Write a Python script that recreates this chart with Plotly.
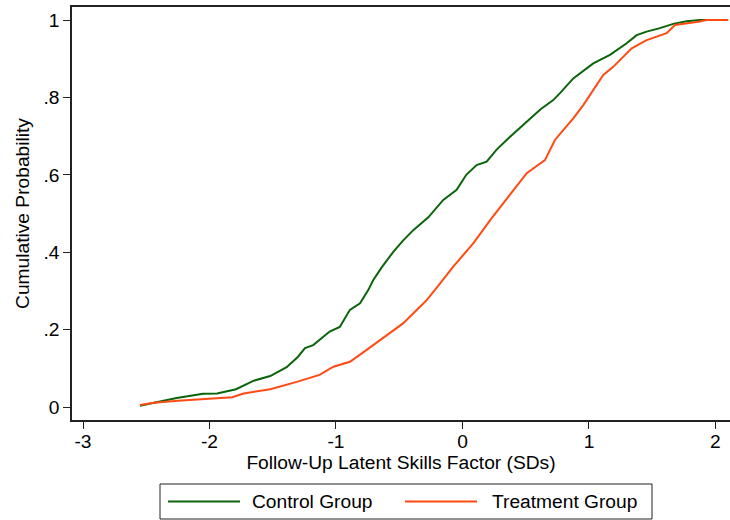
import plotly.graph_objects as go

control_x = [-2.55, -2.44, -2.26, -2.05, -1.94, -1.79, -1.65, -1.52, -1.39, -1.30, -1.245, -1.18,
             -1.05, -0.97, -0.89, -0.81, -0.745, -0.705, -0.64, -0.547, -0.47, -0.389, -0.27,
             -0.152, -0.046, 0.03, 0.112, 0.191, 0.27, 0.349, 0.43, 0.508, 0.62, 0.718, 0.771,
             0.876, 1.034, 1.166, 1.298, 1.377, 1.456, 1.561, 1.666, 1.772, 1.877, 2.10]
control_y = [0.003, 0.011, 0.023, 0.034, 0.035, 0.046, 0.068, 0.080, 0.103, 0.13, 0.152, 0.160,
             0.195, 0.207, 0.251, 0.268, 0.302, 0.328, 0.36, 0.401, 0.43, 0.457, 0.49,
             0.535, 0.561, 0.60, 0.625, 0.634, 0.665, 0.690, 0.715, 0.737, 0.77, 0.793, 0.811,
             0.849, 0.888, 0.910, 0.940, 0.961, 0.970, 0.979, 0.990, 0.997, 1.0, 1.0]

treat_x = [-2.55, -2.44, -2.25, -2.05, -1.82, -1.73, -1.52, -1.31, -1.13, -1.02, -0.89, -0.76,
           -0.63, -0.47, -0.336, -0.283, -0.2, -0.073, 0.085, 0.231, 0.362, 0.508, 0.652, 0.731,
           0.80, 0.876, 0.955, 1.034, 1.113, 1.192, 1.298, 1.338, 1.456, 1.614, 1.68, 1.772,
           1.877, 1.93, 2.10]
treat_y = [0.005, 0.011, 0.016, 0.020, 0.025, 0.035, 0.046, 0.065, 0.083, 0.104, 0.117, 0.147,
           0.178, 0.216, 0.259, 0.276, 0.31, 0.3625, 0.423, 0.488, 0.543, 0.604, 0.638, 0.690,
           0.717, 0.746, 0.780, 0.819, 0.858, 0.879, 0.914, 0.927, 0.948, 0.966, 0.987, 0.991,
           0.996, 1.0, 1.0]

series_names = ["Control Group", "Treatment Group"]
x_ticks = [-3, -2, -1, 0, 1, 2]
x_ticktext = ["-3", "-2", "-1", "0", "1", "2"]
y_ticks = [0, 0.2, 0.4, 0.6, 0.8, 1]
y_ticktext = ["0", ".2", ".4", ".6", ".8", "1"]

GREEN = "#0a640a"
ORANGE = "#ff4a12"
FONT = "Arial, Liberation Sans, sans-serif"
FS = 19.2

fig = go.Figure()
fig.add_trace(go.Scatter(x=control_x, y=control_y, mode="lines", name=series_names[0],
                         line=dict(color=GREEN, width=2)))
fig.add_trace(go.Scatter(x=treat_x, y=treat_y, mode="lines", name=series_names[1],
                         line=dict(color=ORANGE, width=2)))

W, H = 730, 520
L, R, T, B = 72, 0, 7, 100
pw, ph = W - L - R, H - T - B


def px(xpix):
    return (xpix - L) / pw


def py(ypix):
    return (H - B - ypix) / ph


# manual legend (box, two sample lines, labels)
shapes = [
    dict(type="rect", xref="paper", yref="paper", x0=px(160), x1=px(652), y0=py(484), y1=py(519),
         line=dict(color="#222222", width=1), fillcolor="white"),
    dict(type="line", xref="paper", yref="paper", x0=px(168), x1=px(240), y0=py(501.5), y1=py(501.5),
         line=dict(color=GREEN, width=2)),
    dict(type="line", xref="paper", yref="paper", x0=px(405), x1=px(477), y0=py(501.5), y1=py(501.5),
         line=dict(color=ORANGE, width=2)),
]
annotations = [
    dict(text=series_names[0], xref="paper", yref="paper", x=px(250), y=py(501.5),
         xanchor="left", yanchor="middle", showarrow=False, font=dict(family=FONT, size=FS, color="black")),
    dict(text=series_names[1], xref="paper", yref="paper", x=px(490), y=py(501.5),
         xanchor="left", yanchor="middle", showarrow=False, font=dict(family=FONT, size=FS, color="black")),
]

fig.update_layout(
    width=W, height=H,
    margin=dict(l=L, r=R, t=T, b=B, pad=0),
    paper_bgcolor="white", plot_bgcolor="white",
    showlegend=False,
    font=dict(family=FONT, size=FS, color="black"),
    shapes=shapes, annotations=annotations,
    xaxis=dict(range=[-3.087, 2.115], tickvals=x_ticks, ticktext=x_ticktext, ticks="outside",
               ticklen=7, tickwidth=1, ticklabelstandoff=-4,
               tickcolor="#222222", showline=True, linecolor="#222222", linewidth=1.5, mirror=True,
               showgrid=False, zeroline=False, automargin=False,
               title=dict(text="Follow-Up Latent Skills Factor (SDs)", standoff=0,
                          font=dict(family=FONT, size=FS))),
    yaxis=dict(range=[-0.0336, 1.0336], tickvals=y_ticks, ticktext=y_ticktext, ticks="outside",
               ticklen=7, tickwidth=1, tickcolor="#222222", showline=True, linecolor="#222222",
               linewidth=1.5, showgrid=False, zeroline=False, automargin=False,
               title=dict(text="Cumulative Probability", standoff=9, font=dict(family=FONT, size=FS))),
)

fig.write_html("out.html")
